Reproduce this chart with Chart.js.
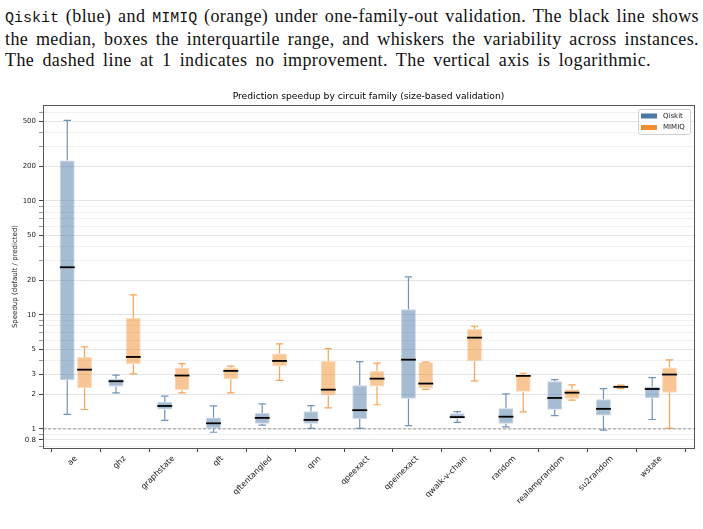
<!DOCTYPE html>
<html>
<head>
<meta charset="utf-8">
<script src="https://cdn.jsdelivr.net/npm/chart.js@4.4.1/dist/chart.umd.min.js"></script>
<style>
html, body { margin: 0; padding: 0; background: #fff; }
body { width: 703px; height: 529px; position: relative; overflow: hidden; }
#caption { position: absolute; left: 5px; top: 6px; width: 694px; font-family: "Liberation Serif", serif; font-size: 18px; line-height: 21px; letter-spacing: 0.4px; color: #111; }
#caption div { white-space: nowrap; }
#caption code { font-family: "Liberation Mono", monospace; font-size: 15px; letter-spacing: 0; }
#wrap { position: absolute; left: 0; top: 80px; width: 703px; height: 449px; }
</style>
</head>
<body>
<div id="caption">
<div data-w="694"><span><code>Qiskit</code> (blue) and <code>MIMIQ</code> (orange) under one-family-out validation. The black line shows</span></div>
<div data-w="694"><span>the median, boxes the interquartile range, and whiskers the variability across instances.</span></div>
<div data-w="646"><span>The dashed line at 1 indicates no improvement. The vertical axis is logarithmic.</span></div>
</div>
<div id="wrap"><canvas id="chart"></canvas></div>
<script>
// circuit families (x categories)
const families = ['ae', 'ghz', 'graphstate', 'qft', 'qftentangled', 'qnn', 'qpeexact',
  'qpeinexact', 'qwalk-v-chain', 'random', 'realamprandom', 'su2random', 'wstate'];

// Qiskit box stats
const qiskitLow    = [1.34, 2.07, 1.19, 0.935, 1.08, 1.01, 1.01, 1.07, 1.14, 1.04, 1.31, 0.975, 1.21];
const qiskitQ1     = [2.67, 2.35, 1.48, 1.01, 1.11, 1.11, 1.22, 1.84, 1.23, 1.11, 1.47, 1.31, 1.86];
const qiskitMedian = [26.2, 2.62, 1.59, 1.12, 1.25, 1.20, 1.46, 4.05, 1.27, 1.28, 1.87, 1.50, 2.24];
const qiskitQ3     = [227, 2.76, 1.73, 1.26, 1.38, 1.43, 2.42, 11.2, 1.37, 1.52, 2.62, 1.82, 2.35];
const qiskitHigh   = [510, 2.97, 1.94, 1.59, 1.66, 1.60, 3.90, 21.6, 1.42, 2.03, 2.71, 2.26, 2.82];

// MIMIQ box stats
const mimiqLow    = [1.48, 3.04, 2.07, 2.07, 2.67, 1.53, 1.63, 2.22, 2.64, 1.41, 1.79, 2.27, 1.01];
const mimiqQ1     = [2.27, 3.69, 2.20, 2.73, 3.55, 1.96, 2.35, 2.26, 3.92, 2.12, 1.84, 2.29, 2.08];
const mimiqMedian = [3.31, 4.28, 2.94, 3.23, 3.95, 2.21, 2.76, 2.50, 6.32, 2.92, 2.08, 2.34, 3.00];
const mimiqQ3     = [4.28, 9.47, 3.45, 3.45, 4.58, 3.95, 3.23, 3.84, 7.54, 2.96, 2.23, 2.40, 3.45];
const mimiqHigh   = [5.24, 15.0, 3.74, 3.55, 5.57, 5.07, 3.77, 3.86, 7.96, 3.08, 2.43, 2.42, 4.03];

// log axis grid values and the ones that get a label
const yGrid = [0.7, 0.8, 0.9, 1, 2, 3, 4, 5, 6, 7, 8, 9, 10, 20, 30, 40, 50, 60, 70, 80, 90,
  100, 200, 300, 400, 500, 600];
const yLabels = [0.8, 1, 2, 3, 5, 10, 20, 50, 100, 200, 500];

const chartTitle = 'Prediction speedup by circuit family (size-based validation)';

const BLUE = [78, 121, 167];
const ORANGE = [242, 142, 43];
const rgba = (c, a) => 'rgba(' + c[0] + ',' + c[1] + ',' + c[2] + ',' + a + ')';

const series = [
  { name: 'Qiskit', color: BLUE, low: qiskitLow, q1: qiskitQ1, med: qiskitMedian, q3: qiskitQ3, high: qiskitHigh },
  { name: 'MIMIQ', color: ORANGE, low: mimiqLow, q1: mimiqQ1, med: mimiqMedian, q3: mimiqQ3, high: mimiqHigh }
];

const font = { family: 'DejaVu Sans', size: 7 };

// spread each caption line to its width with word spacing (manual justification)
function fitCaption() {
  document.querySelectorAll('#caption div').forEach(div => {
    const span = div.querySelector('span');
    span.style.wordSpacing = '0px';
    const w = span.getBoundingClientRect().width;
    const gaps = (span.textContent.match(/ /g) || []).length;
    span.style.wordSpacing = ((+div.dataset.w - w) / gaps) + 'px';
  });
}
fitCaption();
if (document.fonts) document.fonts.ready.then(fitCaption);

// whiskers, medians, the y=1 reference line, frame, title and legend
const boxExtras = {
  id: 'boxExtras',
  beforeDatasetsDraw(chart) {
    const { ctx, chartArea, scales } = chart;
    const y1 = scales.y.getPixelForValue(1);
    ctx.save();
    ctx.strokeStyle = '#9a9a9a';
    ctx.lineWidth = 1;
    ctx.setLineDash([3, 2]);
    ctx.beginPath();
    ctx.moveTo(chartArea.left, y1);
    ctx.lineTo(chartArea.right, y1);
    ctx.stroke();
    ctx.restore();
  },
  afterDatasetsDraw(chart) {
    const { ctx, scales } = chart;
    const ys = scales.y;
    ctx.save();
    series.forEach((s, di) => {
      chart.getDatasetMeta(di).data.forEach((bar, i) => {
        const x = bar.x, half = bar.width / 2, cap = bar.width / 4;
        const pLow = ys.getPixelForValue(s.low[i]);
        const pQ1 = ys.getPixelForValue(s.q1[i]);
        const pQ3 = ys.getPixelForValue(s.q3[i]);
        const pHigh = ys.getPixelForValue(s.high[i]);
        const pMed = ys.getPixelForValue(s.med[i]);
        ctx.strokeStyle = rgba(s.color, 0.8);
        ctx.lineWidth = 1.2;
        ctx.beginPath();
        ctx.moveTo(x, pQ3); ctx.lineTo(x, pHigh);
        ctx.moveTo(x - cap, pHigh); ctx.lineTo(x + cap, pHigh);
        ctx.moveTo(x, pQ1); ctx.lineTo(x, pLow);
        ctx.moveTo(x - cap, pLow); ctx.lineTo(x + cap, pLow);
        ctx.stroke();
        ctx.strokeStyle = '#000';
        ctx.lineWidth = 1.8;
        ctx.beginPath();
        ctx.moveTo(x - half, pMed); ctx.lineTo(x + half, pMed);
        ctx.stroke();
      });
    });
    ctx.restore();
  },
  afterDraw(chart) {
    const { ctx, chartArea } = chart;
    ctx.save();
    ctx.strokeStyle = '#555';
    ctx.lineWidth = 1;
    ctx.strokeRect(Math.round(chartArea.left) + 0.5, Math.round(chartArea.top) + 0.5,
      Math.round(chartArea.right - chartArea.left), Math.round(chartArea.bottom - chartArea.top));
    // title centred over the plot area
    ctx.fillStyle = '#000';
    ctx.font = '9.2px "DejaVu Sans"';
    ctx.textAlign = 'center';
    ctx.textBaseline = 'middle';
    ctx.fillText(chartTitle, (chartArea.left + chartArea.right) / 2, chartArea.top - 8);
    // legend box in the upper right corner
    const w = 52, h = 25;
    const lx = chartArea.right - 4 - w, ly = chartArea.top + 4;
    ctx.fillStyle = 'rgba(255,255,255,0.8)';
    ctx.strokeStyle = '#d0d0d0';
    ctx.beginPath();
    ctx.roundRect(lx + 0.5, ly + 0.5, w, h, 2);
    ctx.fill();
    ctx.stroke();
    ctx.font = '7px "DejaVu Sans"';
    ctx.textAlign = 'left';
    series.forEach((s, k) => {
      const cy = ly + 7 + k * 11.5;
      ctx.fillStyle = rgba(s.color, 1);
      ctx.fillRect(lx + 3, cy - 2.5, 16, 5);
      ctx.fillStyle = '#222';
      ctx.fillText(s.name, lx + 25, cy);
    });
    ctx.restore();
  }
};

new Chart(document.getElementById('chart'), {
  type: 'bar',
  data: {
    datasets: series.map(s => ({
      label: s.name,
      data: families.map((f, i) => ({ x: i, y: [s.q1[i], s.q3[i]] })),
      backgroundColor: rgba(s.color, 0.5),
      borderColor: rgba(s.color, 0.3),
      borderWidth: 1,
      borderSkipped: false,
      categoryPercentage: 0.71,
      barPercentage: 0.86
    }))
  },
  options: {
    responsive: true,
    maintainAspectRatio: false,
    animation: false,
    layout: { padding: { left: 0, right: 9, top: 25, bottom: 0 } },
    plugins: {
      legend: { display: false },
      tooltip: { enabled: false },
      title: { display: false }
    },
    scales: {
      x: {
        type: 'linear',
        min: -0.675,
        max: 12.68,
        offset: false,
        afterBuildTicks: s => { s.ticks = families.map((f, i) => ({ value: i })); },
        afterFit: s => { s.height = 81; },
        ticks: {
          callback: v => families[v],
          autoSkip: false,
          minRotation: 45,
          maxRotation: 45,
          font: { family: 'DejaVu Sans', size: 8 },
          color: '#222',
          padding: 2
        },
        grid: { display: true, drawOnChartArea: false, drawTicks: true, tickLength: 4, tickColor: '#444' },
        border: { display: false }
      },
      y: {
        type: 'logarithmic',
        min: 0.68,
        max: 695,
        afterBuildTicks: s => { s.ticks = yGrid.map(v => ({ value: v })); },
        afterFit: s => { s.width = 43; },
        ticks: {
          callback: v => (yLabels.includes(v) ? String(v) : ''),
          autoSkip: false,
          font: font,
          color: '#222',
          padding: 3
        },
        grid: {
          color: c => (c.tick && yLabels.includes(c.tick.value) ? '#e4e4e4' : '#f1f1f1'),
          tickColor: c => (c.tick && yLabels.includes(c.tick.value) ? '#444' : '#999'),
          tickLength: 4
        },
        border: { display: false },
        title: {
          display: true,
          text: 'Speedup (default / predicted)',
          font: font,
          color: '#222',
          padding: { top: 11, bottom: 0 }
        }
      }
    }
  },
  plugins: [boxExtras]
});
</script>
</body>
</html>
